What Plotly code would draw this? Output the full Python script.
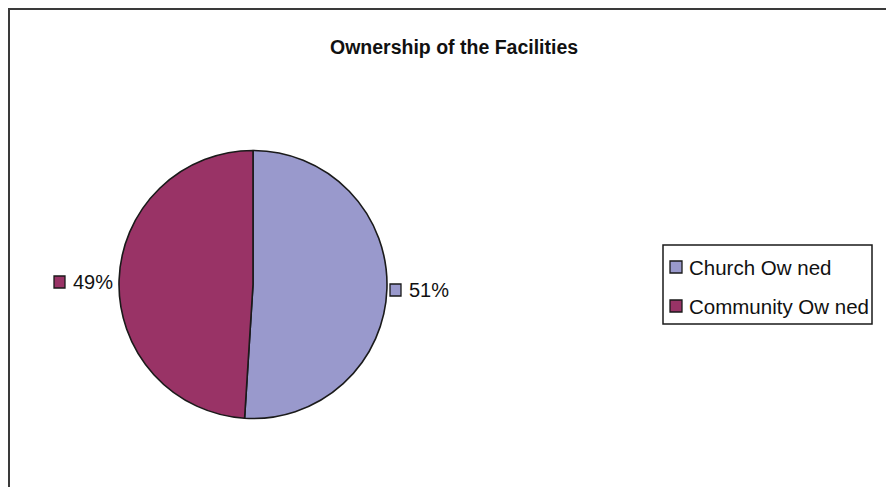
import plotly.graph_objects as go

# Ownership split of the facilities
categories = ["Church Ow ned", "Community Ow ned"]
shares = [51, 49]
colors = ["#9999CC", "#993366"]

W, H = 886, 487


def px(x):
    return x / W


def py(y):
    return 1 - y / H


fig = go.Figure()

# Pie centred at (253, 284) with a diameter of about 268 px
cx, cy, r = 253, 284.5, 134
fig.add_trace(go.Pie(
    labels=categories,
    values=shares,
    marker=dict(colors=colors, line=dict(color="#1a1a1a", width=1.6)),
    sort=False,
    direction="clockwise",
    rotation=0,
    textinfo="none",
    hoverinfo="label+percent",
    showlegend=False,
    domain=dict(x=[px(cx - r), px(cx + r)], y=[py(cy + r), py(cy - r)]),
))

shapes = []
annotations = []
FONT = "Liberation Sans, Arial"

# Outer chart frame (only top and left edges visible inside the window)
shapes.append(dict(type="rect", xref="paper", yref="paper",
                   x0=px(9), x1=px(W + 20), y0=py(H + 20), y1=py(9),
                   line=dict(color="#3a3a3a", width=2), fillcolor="rgba(0,0,0,0)"))

# Title
annotations.append(dict(text="<b>Ownership of the Facilities</b>", xref="paper", yref="paper",
                        x=px(454), y=py(47), showarrow=False,
                        font=dict(family=FONT, size=19.5, color="#111111"),
                        xanchor="center", yanchor="middle"))

# Percentage labels beside each slice
total = sum(shares)
label_pos = [(390, 290), (54, 282)]  # square left edge, vertical centre
for val, col, (lx, ly) in zip(shares, colors, label_pos):
    pct = round(100 * val / total)
    shapes.append(dict(type="rect", xref="paper", yref="paper",
                       x0=px(lx), x1=px(lx + 11), y0=py(ly + 6), y1=py(ly - 6),
                       fillcolor=col, line=dict(color="#1a1a1a", width=1.3)))
    annotations.append(dict(text=f"{pct}%", xref="paper", yref="paper",
                            x=px(lx + 17), y=py(ly), showarrow=False,
                            xanchor="left", yanchor="middle",
                            font=dict(family=FONT, size=20, color="#111111")))

# Legend box
shapes.append(dict(type="rect", xref="paper", yref="paper",
                   x0=px(663), x1=px(872), y0=py(324), y1=py(245),
                   line=dict(color="#1a1a1a", width=1.5), fillcolor="white"))
legend_rows = [267, 306]
for name, col, ly in zip(categories, colors, legend_rows):
    shapes.append(dict(type="rect", xref="paper", yref="paper",
                       x0=px(670), x1=px(682), y0=py(ly + 6), y1=py(ly - 6),
                       fillcolor=col, line=dict(color="#1a1a1a", width=1.3)))
    annotations.append(dict(text=name, xref="paper", yref="paper",
                            x=px(687), y=py(ly), showarrow=False,
                            xanchor="left", yanchor="middle",
                            font=dict(family=FONT, size=20.5, color="#111111")))

fig.update_layout(
    width=W, height=H,
    margin=dict(l=0, r=0, t=0, b=0),
    paper_bgcolor="white",
    plot_bgcolor="white",
    shapes=shapes,
    annotations=annotations,
)

fig.write_html("out.html")
